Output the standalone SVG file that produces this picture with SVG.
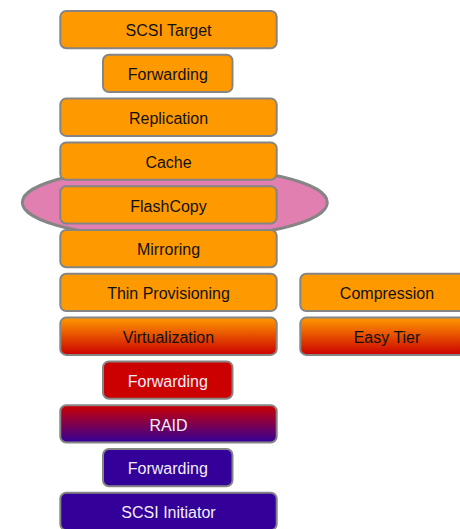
<svg xmlns="http://www.w3.org/2000/svg" width="460" height="529" viewBox="0 0 460 529">
  <defs>
    <linearGradient id="gOrangeRed" x1="0" y1="0" x2="0" y2="1">
      <stop offset="0" stop-color="#ff9900"/>
      <stop offset="1" stop-color="#cc0000"/>
    </linearGradient>
    <linearGradient id="gRedPurple" x1="0" y1="0" x2="0" y2="1">
      <stop offset="0" stop-color="#cc0000"/>
      <stop offset="1" stop-color="#330099"/>
    </linearGradient>
  </defs>
  <style>
    .box { stroke: #858585; stroke-width: 2; }
    .orange { fill: #ff9900; }
    .orangered { fill: url(#gOrangeRed); }
    .red { fill: #cc0000; }
    .redpurple { fill: url(#gRedPurple); }
    .purple { fill: #330099; }
    .lbl { font-family: "Liberation Sans", Arial, sans-serif; font-size: 16px; text-anchor: middle; fill: #111111; }
    .light { fill: #f2eef8; }
    .ring { fill: #e07fb0; stroke: #858585; stroke-width: 3; }
  </style>
  <rect width="460" height="529" fill="#ffffff"/>

  <!-- highlight ring around the FlashCopy layer -->
  <g id="flashcopy-ring">
    <ellipse class="ring" cx="174.8" cy="202.5" rx="152.5" ry="36"/>
  </g>

  <g id="connectors"></g>

  <g id="scsi-target">
    <rect class="box orange" x="60.3" y="11" width="216.4" height="37.3" rx="6"/>
    <text class="lbl" x="168.5" y="36.3">SCSI Target</text>
  </g>
  <g id="forwarding-1">
    <rect class="box orange" x="103" y="54.8" width="129.5" height="37.3" rx="6"/>
    <text class="lbl" x="167.8" y="80.1">Forwarding</text>
  </g>
  <g id="replication">
    <rect class="box orange" x="60.3" y="98.6" width="216.4" height="37.3" rx="6"/>
    <text class="lbl" x="168.5" y="123.9">Replication</text>
  </g>
  <g id="cache">
    <rect class="box orange" x="60.3" y="142.4" width="216.4" height="37.3" rx="6"/>
    <text class="lbl" x="168.5" y="167.7">Cache</text>
  </g>
  <g id="flashcopy">
    <rect class="box orange" x="60.3" y="186.2" width="216.4" height="37.3" rx="6"/>
    <text class="lbl" x="168.5" y="211.5">FlashCopy</text>
  </g>
  <g id="mirroring">
    <rect class="box orange" x="60.3" y="230" width="216.4" height="37.3" rx="6"/>
    <text class="lbl" x="168.5" y="255.3">Mirroring</text>
  </g>
  <g id="thin-provisioning">
    <rect class="box orange" x="60.3" y="273.8" width="216.4" height="37.3" rx="6"/>
    <text class="lbl" x="168.5" y="299.1">Thin Provisioning</text>
  </g>
  <g id="compression">
    <rect class="box orange" x="300.3" y="273.8" width="173" height="37.3" rx="6"/>
    <text class="lbl" x="387" y="299.1">Compression</text>
  </g>
  <g id="virtualization">
    <rect class="box orangered" x="60.3" y="317.6" width="216.4" height="37.3" rx="6"/>
    <text class="lbl" x="168.5" y="342.9">Virtualization</text>
  </g>
  <g id="easy-tier">
    <rect class="box orangered" x="300.3" y="317.6" width="173" height="37.3" rx="6"/>
    <text class="lbl" x="387" y="342.9">Easy Tier</text>
  </g>
  <g id="forwarding-2">
    <rect class="box red" x="103" y="361.4" width="129.5" height="37.3" rx="6"/>
    <text class="lbl light" x="167.8" y="386.7">Forwarding</text>
  </g>
  <g id="raid">
    <rect class="box redpurple" x="60.3" y="405.2" width="216.4" height="37.3" rx="6"/>
    <text class="lbl light" x="168.5" y="430.5">RAID</text>
  </g>
  <g id="forwarding-3">
    <rect class="box purple" x="103" y="449" width="129.5" height="37.3" rx="6"/>
    <text class="lbl light" x="167.8" y="474.3">Forwarding</text>
  </g>
  <g id="scsi-initiator">
    <rect class="box purple" x="60.3" y="492.8" width="216.4" height="37.3" rx="6"/>
    <text class="lbl light" x="168.5" y="518.1">SCSI Initiator</text>
  </g>
</svg>
